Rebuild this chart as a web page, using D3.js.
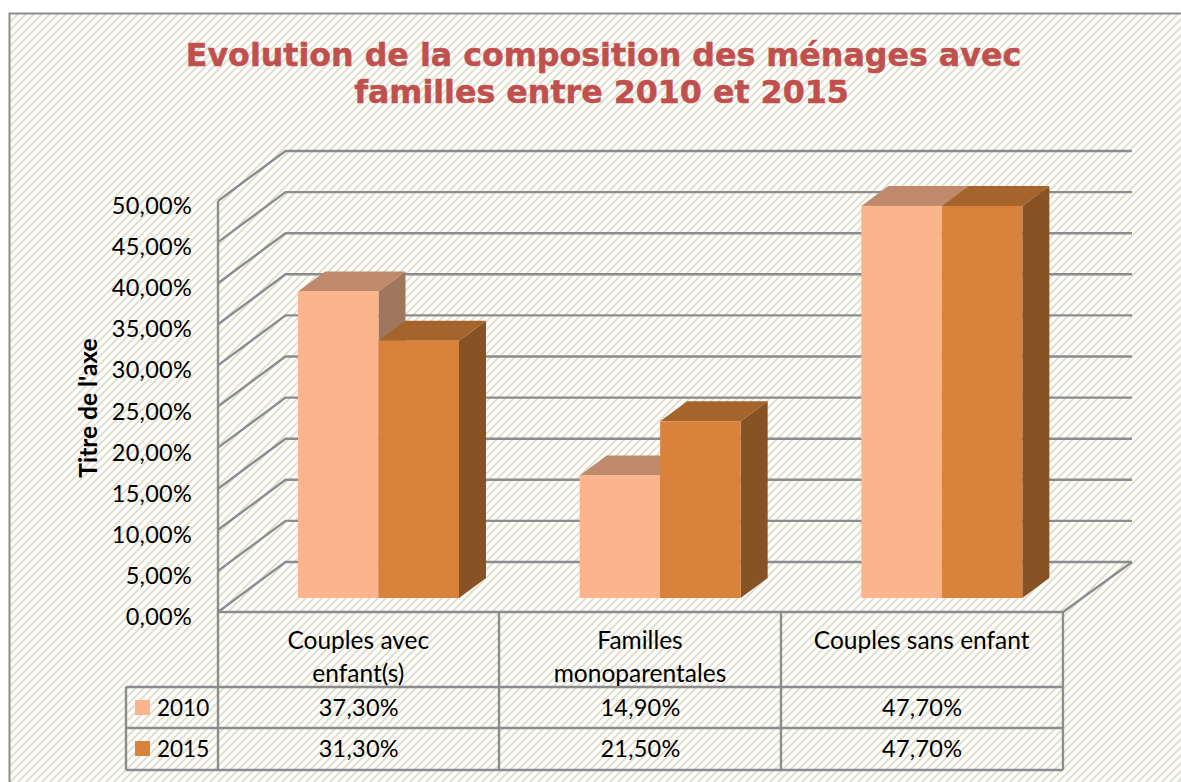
<!DOCTYPE html>
<html><head><meta charset="utf-8">
<script src="https://cdn.jsdelivr.net/npm/d3@7"></script>
<style>html,body{margin:0;padding:0;background:#fff}svg{display:block}text{font-family:Lato,sans-serif;fill:#000}</style>
</head><body><svg id="c" width="1181" height="782"></svg>
<script>
const categories = ["Couples avec\nenfant(s)", "Familles\nmonoparentales", "Couples sans enfant"];
const seriesNames = ["2010", "2015"];
const values2010 = [37.3, 14.9, 47.7];
const values2015 = [31.3, 21.5, 47.7];
const yTicks = [0, 5, 10, 15, 20, 25, 30, 35, 40, 45, 50];
const titleLines = ["Evolution de la composition des ménages avec", "familles entre 2010 et 2015"];
const axisTitle = "Titre de l'axe";
const colors = [
  {front:"#fcb48d", top:"#bf8a6c", side:"#a0775c"},
  {front:"#d9823c", top:"#a6642d", side:"#875224"}
];
const grid = "#8c8c8c";

const svg = d3.select("#c");
const defs = svg.append("defs");
const pat = defs.append("pattern").attr("id","hatch").attr("width",8).attr("height",8).attr("patternUnits","userSpaceOnUse");
pat.append("rect").attr("width",8).attr("height",8).attr("fill","#fff");
pat.append("path").attr("d","M-2,2L2,-2M0,8L8,0M6,10L10,6").attr("stroke","#dfddc8").attr("stroke-width",1.9);

svg.append("rect").attr("x",9).attr("y",13).attr("width",1172).attr("height",769).attr("fill","url(#hatch)");
svg.append("path").attr("d","M9.5,782V13.5H1181").attr("fill","none").attr("stroke",grid).attr("stroke-width",2);

const fmt = v => d3.format(".2f")(v).replace(".", ",") + "%";
const y = d3.scaleLinear().domain([0,50]).range([612,201]);
const x = d3.scaleBand().domain(d3.range(categories.length)).range([218,1063]);
const depthX = 67.5, depthY = 50;
const backR = 1132;

const g = svg.append("g").attr("fill","none").attr("stroke",grid).attr("stroke-width",2.4);
yTicks.forEach(t => {
  const yy = y(t);
  g.append("path").attr("d",`M${x.range()[0]},${yy}L${x.range()[0]+depthX},${yy-depthY}H${backR}`);
});
g.append("path").attr("d",`M218,${y(50)}V${y(0)}H1063L${backR},${y(0)-depthY}`);

// 3D bars
const barW = 80.5, barDX = 27, barDY = 20, barOffset = 80, floorY = 598;
const yBar = v => floorY - (y(0)-y(v));
const bars = svg.append("g");
categories.forEach((c,i)=>{
  [values2010[i], values2015[i]].forEach((v,s)=>{
    const x0 = x(i)+barOffset+s*barW, x1 = x0+barW, yt = yBar(v), col = colors[s];
    const b = bars.append("g");
    b.append("path").attr("fill",col.side).attr("d",`M${x1},${floorY}V${yt}l${barDX},${-barDY}V${floorY-barDY}Z`);
    b.append("path").attr("fill",col.top).attr("d",`M${x0},${yt}H${x1}l${barDX},${-barDY}H${x0+barDX}Z`);
    b.append("rect").attr("x",x0).attr("y",yt).attr("width",barW).attr("height",floorY-yt).attr("fill",col.front);
  });
});

// Axis
const axis = d3.axisLeft(y).tickValues(yTicks).tickFormat(fmt).tickSize(0).tickPadding(0);
const ax = svg.append("g").attr("transform","translate(192,5)").call(axis);
ax.select(".domain").remove();
ax.selectAll("text").attr("font-size",23.5).attr("font-family","Lato,sans-serif").attr("dy","0.32em").style("letter-spacing","0.25px");

svg.append("text").attr("transform","translate(97,408) rotate(-90)").attr("text-anchor","middle")
  .attr("font-weight",700).attr("font-size",24.5).text(axisTitle);

// Title
svg.append("g").selectAll("text").data(titleLines).join("text")
  .attr("x",(d,i)=>i?601.5:603.5).attr("y",(d,i)=>66+i*37).attr("text-anchor","middle")
  .style("font-family","'DejaVu Sans',sans-serif").style("fill","#c0504d").style("stroke","#c0504d").style("stroke-width",0.5)
  .attr("font-weight",700).attr("font-size",31.7).text(d=>d);

// Data table
const rowY = [612,687,728,770];
const t = svg.append("g").attr("fill","none").attr("stroke",grid).attr("stroke-width",2.4);
[218,499,781,1063].forEach(xx=>t.append("path").attr("d",`M${xx},612V770`));
rowY.slice(1).forEach(yy=>t.append("path").attr("d",`M126,${yy}H1063`));
t.append("path").attr("d","M126,687V770");

categories.forEach((c,i)=>{
  c.split("\n").forEach((ln,j)=>{
    svg.append("text").attr("x",x(i)+x.bandwidth()/2-0.5).attr("y",649+j*33).attr("text-anchor","middle").attr("font-size",24.5).text(ln);
  });
});
[values2010,values2015].forEach((vals,s)=>{
  const by = rowY[s+1];
  svg.append("rect").attr("x",135).attr("y",by+13).attr("width",15).attr("height",15).attr("fill",colors[s].front);
  svg.append("text").attr("x",157).attr("y",by+28.5).attr("font-size",22.5).text(seriesNames[s]);
  vals.forEach((v,i)=>{
    svg.append("text").attr("x",x(i)+x.bandwidth()/2).attr("y",by+28.5).attr("text-anchor","middle").attr("font-size",23.5).style("letter-spacing","0.25px").text(fmt(v));
  });
});
</script></body></html>
